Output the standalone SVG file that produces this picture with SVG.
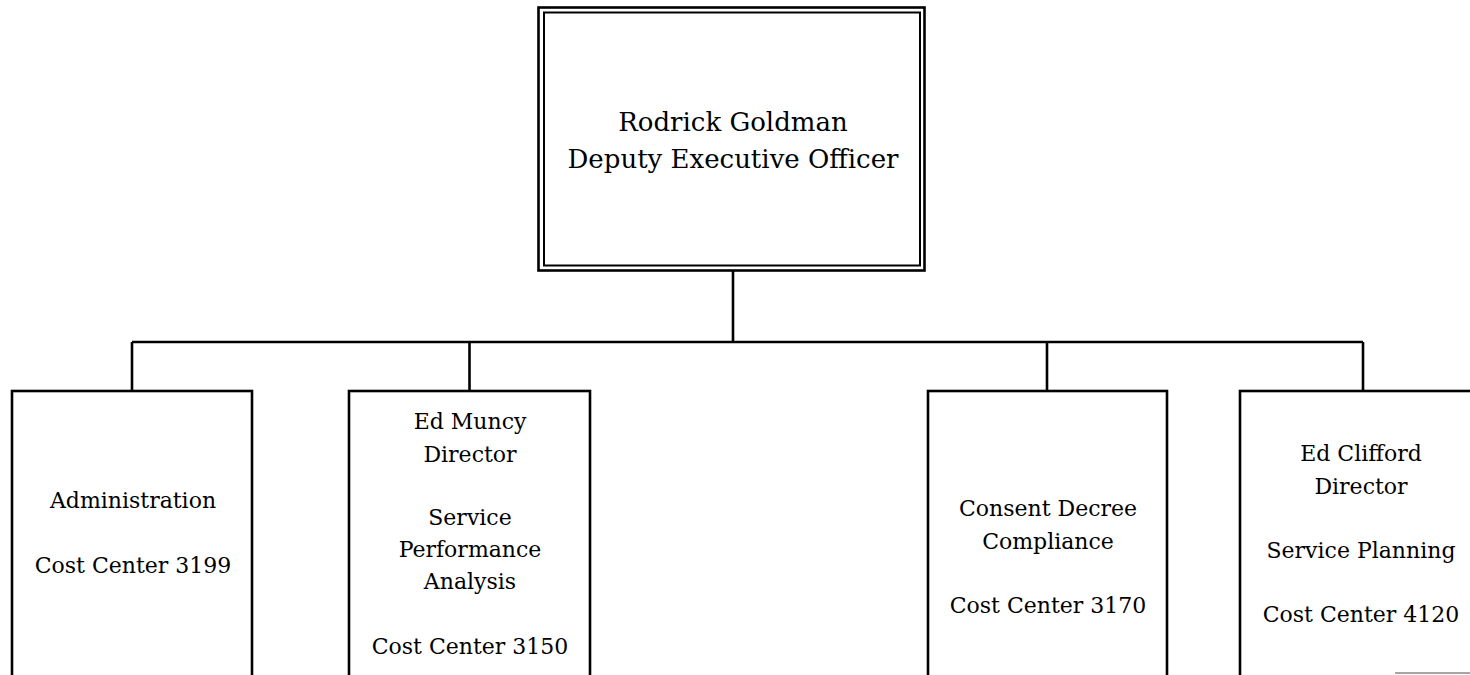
<svg xmlns="http://www.w3.org/2000/svg" width="1470" height="675" viewBox="0 0 1470 675">
<style>
.box{fill:#fff;stroke:#000;stroke-width:2.6}
.ln{fill:none;stroke:#000;stroke-width:2.6}
text{font-family:"DejaVu Serif","Liberation Serif",serif;fill:#000;text-anchor:middle}
.t{font-size:22px}
.h{font-size:26px}
</style>
<rect width="1470" height="675" fill="#fff"/>
<g id="connectors">
<path class="ln" d="M733 269V342M132 342H1363M132 342V391M469.5 342V391M1047 342V391M1363 342V391"/>
</g>
<g id="top">
<rect x="538.5" y="7.5" width="386" height="263" fill="#fff" stroke="#000" stroke-width="2.6"/>
<rect x="544" y="12.5" width="376" height="253" fill="none" stroke="#000" stroke-width="2"/>
<text class="h" x="733" y="131">Rodrick Goldman</text>
<text class="h" x="733" y="168">Deputy Executive Officer</text>
</g>
<g id="admin">
<rect class="box" x="12" y="391" width="240" height="320"/>
<text class="t" x="133" y="508">Administration</text>
<text class="t" x="133" y="573">Cost Center 3199</text>
</g>
<g id="spa">
<rect class="box" x="349" y="391" width="241" height="320"/>
<text class="t" x="470" y="429">Ed Muncy</text>
<text class="t" x="470" y="462">Director</text>
<text class="t" x="470" y="525">Service</text>
<text class="t" x="470" y="557">Performance</text>
<text class="t" x="470" y="589">Analysis</text>
<text class="t" x="470" y="654">Cost Center 3150</text>
</g>
<g id="consent">
<rect class="box" x="928" y="391" width="239" height="320"/>
<text class="t" x="1048" y="516">Consent Decree</text>
<text class="t" x="1048" y="549">Compliance</text>
<text class="t" x="1048" y="613">Cost Center 3170</text>
</g>
<g id="planning">
<rect class="box" x="1240" y="391" width="260" height="320"/>
<text class="t" x="1361" y="461">Ed Clifford</text>
<text class="t" x="1361" y="494">Director</text>
<text class="t" x="1361" y="558">Service Planning</text>
<text class="t" x="1361" y="622">Cost Center 4120</text>
</g>
<line x1="1395" y1="673" x2="1470" y2="673" stroke="#888" stroke-width="1.5"/>
</svg>
